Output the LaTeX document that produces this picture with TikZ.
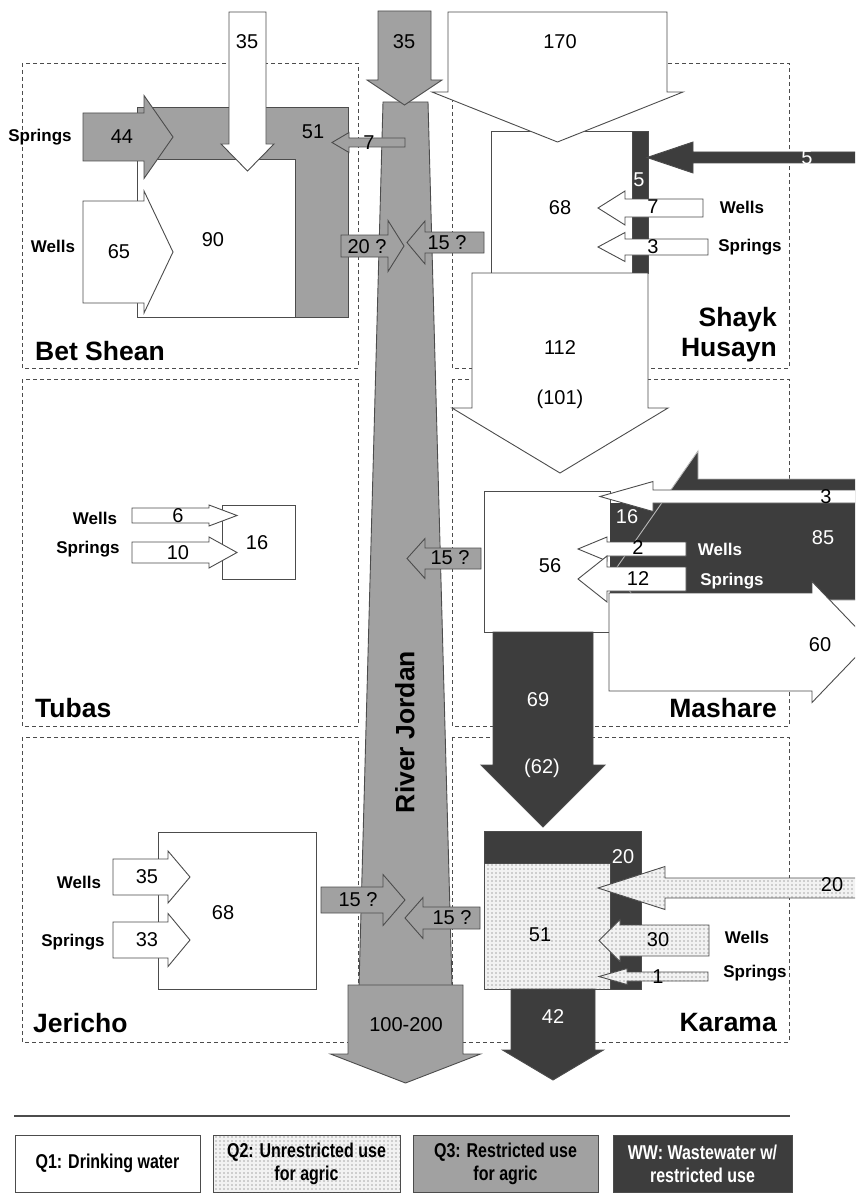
\documentclass[tikz,border=0pt]{standalone}
\usepackage{fontspec}
\setmainfont{Liberation Sans}
\newfontfamily\narrowfont[FakeStretch=0.8]{Liberation Sans}
\usetikzlibrary{calc,patterns}
\pgfdeclarelayer{regionlayer}
\pgfsetlayers{regionlayer,main}
\pgfdeclarepatternformonly{qtwodots}{\pgfqpoint{-1pt}{-1pt}}{\pgfqpoint{1pt}{1pt}}{\pgfqpoint{4pt}{4pt}}%
  {\pgfpathcircle{\pgfqpoint{0pt}{0pt}}{0.65pt}\pgfusepath{fill}}
\definecolor{qtwofill}{gray}{0.95}
\definecolor{qthreefill}{gray}{0.63}
\definecolor{wwfill}{gray}{0.24}
\definecolor{edgegray}{gray}{0.3}
\tikzstyle{region}=[draw=edgegray, line width=0.8pt, dash pattern=on 4pt off 3pt]
\tikzstyle{qone}=[fill=white, draw=edgegray, line width=0.9pt]
\tikzstyle{qtwo}=[fill=qtwofill, postaction={pattern=qtwodots, pattern color=gray!70!black},
  draw=edgegray, line width=0.9pt]
\tikzstyle{qthree}=[fill=qthreefill, draw=edgegray, line width=0.9pt]
\tikzstyle{wwater}=[fill=wwfill, draw=edgegray, line width=0.9pt]
\tikzstyle{num}=[inner sep=0pt, font=\fontsize{20}{22}\selectfont]
\tikzstyle{numw}=[num, text=white]
\tikzstyle{src}=[inner sep=0pt, font=\bfseries\fontsize{17}{19}\selectfont]
\tikzstyle{place}=[inner sep=0pt, font=\bfseries\fontsize{26.5}{30}\selectfont]
\tikzstyle{legbox}=[draw=edgegray, line width=0.9pt, minimum height=57pt, align=center,
  font=\narrowfont\bfseries\fontsize{20}{23}\selectfont]
% block arrow: [style]{tail}{tip}{shaft half width}{head half width}{head length}
\newcommand{\flowarrow}[6][qone]{%
  \coordinate (fa-h) at ($(#3)!#6pt!(#2)$);
  \draw[style=#1] ($(#2)!#4pt!90:(#3)$) -- ($(fa-h)!#4pt!90:(#3)$) -- ($(fa-h)!#5pt!90:(#3)$)
    -- (#3) -- ($(fa-h)!#5pt!-90:(#3)$) -- ($(fa-h)!#4pt!-90:(#3)$) -- ($(#2)!#4pt!-90:(#3)$) -- cycle;
}

\begin{document}
\begin{tikzpicture}[x=1pt, y=-1pt]
	\useasboundingbox (0,0) rectangle (855,1193);
	\clip (0,0) rectangle (855,1193);
	\begin{pgfonlayer}{regionlayer}
		\draw[style=region] (22,63) rectangle (358,368);
		\draw[style=region] (452,63) rectangle (789,368);
		\draw[style=region] (22,379) rectangle (358,726);
		\draw[style=region] (452,379) rectangle (789,726);
		\draw[style=region] (22,737) rectangle (358,1042);
		\draw[style=region] (452,737) rectangle (789,1042);
	\end{pgfonlayer}

	% Bet Shean
	\draw[style=qthree] (137,107) rectangle (348,317);
	\draw[style=qone] (137,159) rectangle (295,317);
	\flowarrow[qthree]{83,137}{173,137}{24}{41.5}{29}
	\flowarrow[qone]{83,252}{173,252}{51}{61}{29}
	\flowarrow[qone]{247.5,12}{247.5,171}{18.5}{26.5}{27}

	% River Jordan
	\draw[style=qthree] (383,102) -- (428,102) -- (452,986) -- (359,986) -- cycle;
	\flowarrow[qthree]{404.5,11}{404.5,105}{26.5}{37.5}{25}
	\flowarrow[qthree]{405,142.5}{332,142.5}{4.5}{10}{17}
	\flowarrow[qthree]{341,246}{404,246}{11}{25.5}{16}

	% Shayk Husayn
	\draw[style=qone] (491,131) rectangle (632,273);
	\draw[style=wwater] (632,131) rectangle (648,273);
	\flowarrow[qone]{557.5,12}{557.5,142}{109.5}{125.5}{50}
	\flowarrow[wwater]{870,157.5}{647,157.5}{5.5}{15.5}{46}
	\flowarrow[qone]{703,208}{598,208}{9}{17}{27}
	\flowarrow[qone]{708,247}{598,247}{8}{14.5}{27}
	\flowarrow[qone]{560,273}{560,473}{88}{108}{65}
	\flowarrow[qthree]{484,242.5}{407,242.5}{10.5}{21.5}{18}

	% Mashare
	\draw[style=qone] (484,491) rectangle (610,632);
	\fill[wwfill] (610,503) rectangle (675,600);
	\draw[style=wwater, draw=gray!55] (870,479) -- (698,479) -- (698,451) -- (615,570)
		-- (698,689) -- (698,600) -- (870,600) -- cycle;
	\flowarrow[qone]{870,496.5}{600,496.5}{6.5}{15}{53}
	\flowarrow[qone]{686,549}{578,549}{7}{12}{29}
	\flowarrow[qone]{686,579}{578,579}{12}{23}{29}
	\flowarrow[qone]{609,642}{870,642}{49}{60.5}{58}
	\flowarrow[wwater]{543,632}{543,827}{50}{62}{62}
	\flowarrow[qthree]{481,558.5}{407,558.5}{10.5}{20}{18}

	% Tubas
	\draw[style=qone] (222,505) rectangle (295,579);
	\flowarrow[qone]{132,515.5}{237,515.5}{7.5}{10.5}{28}
	\flowarrow[qone]{132,552.5}{237,552.5}{10.5}{15.5}{28}

	% Jericho
	\draw[style=qone] (158,832) rectangle (316,989);
	\flowarrow[qone]{113,877}{190,877}{18}{26}{22}
	\flowarrow[qone]{113,940}{190,940}{18}{26.5}{22}
	\flowarrow[qthree]{321,900}{405,900}{13}{25.5}{22}

	% Karama
	\draw[style=wwater] (484,831) rectangle (641,989);
	\draw[style=qtwo] (484,863) rectangle (610,989);
	\flowarrow[qtwo]{870,888}{598,888}{10}{21.5}{67}
	\flowarrow[qtwo]{709,940.5}{599,940.5}{15.5}{21}{21}
	\flowarrow[qtwo]{708,976.5}{599,976.5}{4.5}{8}{28}
	\flowarrow[wwater]{553,989}{553,1080}{42}{50.5}{30}
	\flowarrow[qthree]{480,918}{405,918}{11}{20.5}{18}
	\flowarrow[qthree]{405.5,985}{405.5,1083}{57.5}{75}{29}

	% labels
	\node[style=place, anchor=west] (betshean) at (35,351) {Bet Shean};
	\node[style=place, anchor=east, align=right] (shayk) at (777,335) {Shayk\\Husayn};
	\node[style=place, anchor=west] (tubas) at (35,708) {Tubas};
	\node[style=place, anchor=east] (mashare) at (777,708) {Mashare};
	\node[style=place, anchor=west] (jericho) at (33,1023) {Jericho};
	\node[style=place, anchor=east] (karama) at (777,1023) {Karama};
	\node[style=place, rotate=90] (jordan) at (405,732) {River Jordan};

	\node[style=num] (bs-in) at (247,42) {35};
	\node[style=num] (rj-in) at (404,42) {35};
	\node[style=num] (sh-in) at (560,42) {170};
	\node[style=src] (bs-spr) at (40,137) {Springs};
	\node[style=src] (bs-wel) at (53,246) {Wells};
	\node[style=num] (bs-44) at (122,137) {44};
	\node[style=num] (bs-65) at (119,252) {65};
	\node[style=num] (bs-90) at (213,240) {90};
	\node[style=num] (bs-51) at (313,132) {51};
	\node[style=num] (bs-7) at (369,143) {7};
	\node[style=num] (bs-20) at (367,247) {20 ?};
	\node[style=num] (sh-15) at (447,243) {15 ?};

	\node[style=num] (sh-68) at (560,208) {68};
	\node[style=numw] (sh-ww) at (639,180) {5};
	\node[style=numw] (sh-wwin) at (807,158) {5};
	\node[style=num] (sh-7) at (653,207) {7};
	\node[style=num] (sh-3) at (653,247) {3};
	\node[style=src] (sh-wel) at (742,207) {Wells};
	\node[style=src] (sh-spr) at (750,247) {Springs};
	\node[style=num] (sh-out) at (560,348) {112};
	\node[style=num] (sh-outb) at (560,399) {(101)};

	\node[style=num] (ma-56) at (550,566) {56};
	\node[style=numw] (ma-16) at (627,517) {16};
	\node[style=num] (ma-3) at (826,497) {3};
	\node[style=numw] (ma-85) at (823,538) {85};
	\node[style=num] (ma-2) at (638,548) {2};
	\node[style=num] (ma-12) at (638,579) {12};
	\node[style=src, text=white] (ma-wel) at (720,549) {Wells};
	\node[style=src, text=white] (ma-spr) at (732,581) {Springs};
	\node[style=num] (ma-60) at (820,645) {60};
	\node[style=num] (ma-15) at (450,558) {15 ?};
	\node[style=numw] (ma-out) at (538,700) {69};
	\node[style=numw] (ma-outb) at (542,768) {(62)};

	\node[style=src] (tu-wel) at (95,518) {Wells};
	\node[style=src] (tu-spr) at (88,549) {Springs};
	\node[style=num] (tu-6) at (178,516) {6};
	\node[style=num] (tu-10) at (178,553) {10};
	\node[style=num] (tu-16) at (257,543) {16};

	\node[style=src] (je-wel) at (79,882) {Wells};
	\node[style=src] (je-spr) at (73,942) {Springs};
	\node[style=num] (je-35) at (147,877) {35};
	\node[style=num] (je-33) at (147,940) {33};
	\node[style=num] (je-68) at (223,913) {68};
	\node[style=num] (je-15) at (358,900) {15 ?};

	\node[style=numw] (ka-20) at (623,857) {20};
	\node[style=num] (ka-51) at (540,935) {51};
	\node[style=num] (ka-20in) at (832,885) {20};
	\node[style=num] (ka-30) at (658,940) {30};
	\node[style=num] (ka-1) at (658,977) {1};
	\node[style=src] (ka-wel) at (747,937) {Wells};
	\node[style=src] (ka-spr) at (755,973) {Springs};
	\node[style=num] (ka-15) at (452,918) {15 ?};
	\node[style=numw] (ka-out) at (553,1017) {42};
	\node[style=num] (rj-out) at (406,1025) {100-200};

	% legend
	\draw[draw=edgegray, line width=1.6pt] (14,1116) -- (790,1116);
	\node[style=legbox, fill=white, minimum width=185pt] (leg1) at (107.5,1163.5) {Q1: Drinking water};
	\node[style=legbox, fill=qtwofill, postaction={pattern=qtwodots, pattern color=gray!70!black},
		minimum width=187pt] (leg2) at (306.5,1163.5) {Q2: Unrestricted use\\for agric};
	\node[style=legbox, fill=qthreefill, minimum width=185pt] (leg3) at (505.5,1163.5) {Q3: Restricted use\\for agric};
	\node[style=legbox, fill=wwfill, text=white, minimum width=179pt] (leg4) at (702.5,1163.5) {WW: Wastewater w/\\restricted use};
\end{tikzpicture}
\end{document}
